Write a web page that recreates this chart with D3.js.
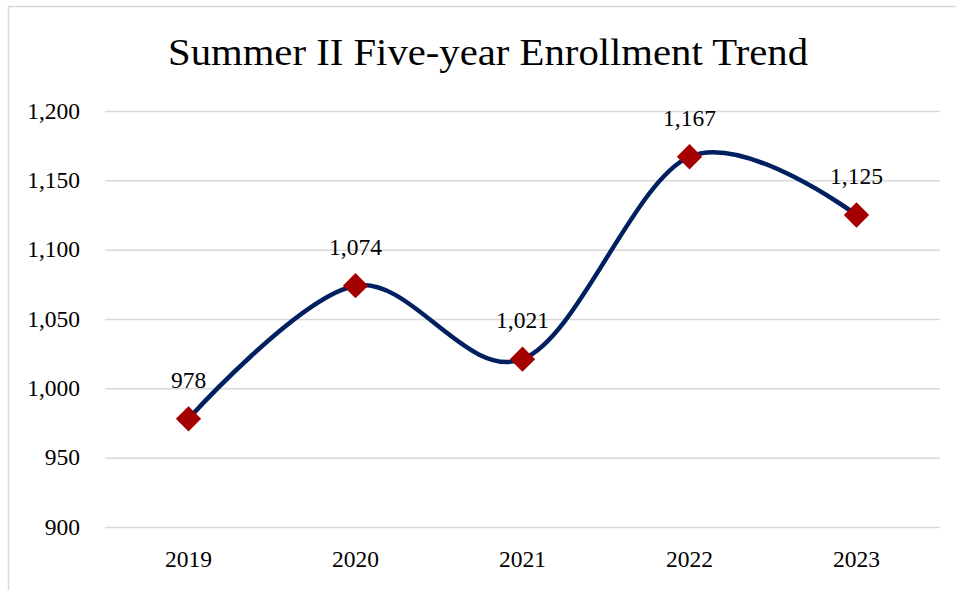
<!DOCTYPE html>
<html>
<head>
<meta charset="utf-8">
<script src="https://cdn.jsdelivr.net/npm/d3@7"></script>
<style>
  body { margin: 0; background: #fff; }
  svg { display: block; font-family: "Liberation Serif", "DejaVu Serif", serif; }
</style>
</head>
<body>
<div id="viz"></div>
<script>
const title = "Summer II Five-year Enrollment Trend";
const years = ["2019", "2020", "2021", "2022", "2023"];
const enrollment = [978, 1074, 1021, 1167, 1125];
const yTicks = [900, 950, 1000, 1050, 1100, 1150, 1200];

const W = 956, H = 590;
const m = {left: 105, right: 16, top: 111, bottom: 63};

const svg = d3.select("#viz").append("svg")
  .attr("width", W)
  .attr("height", H);

// chart frame (right/bottom edges fall outside the picture)
svg.append("rect")
  .attr("x", 8.5).attr("y", 6.5)
  .attr("width", 980).attr("height", 620)
  .attr("fill", "none")
  .attr("stroke", "#d9d9d9")
  .attr("stroke-width", 1.5);

const x = d3.scaleBand()
  .domain(years)
  .range([m.left, W - m.right]);

const y = d3.scaleLinear()
  .domain([900, 1200])
  .range([H - m.bottom, m.top]);

const fmt = d3.format(",");

// gridlines + y labels
const yAxis = svg.append("g")
  .attr("transform", `translate(${m.left},0)`)
  .call(d3.axisLeft(y).tickValues(yTicks).tickFormat(fmt)
    .tickSize(-(W - m.left - m.right)).tickPadding(25));
yAxis.select(".domain").remove();
yAxis.selectAll(".tick line").attr("stroke", "#d9d9d9").attr("stroke-width", 1.5);
yAxis.selectAll(".tick text")
  .attr("font-family", "Liberation Serif, serif")
  .attr("font-size", 23.5)
  .attr("fill", "#000")
  .attr("dy", "0.3em");

// x labels
const xAxis = svg.append("g")
  .attr("transform", `translate(0,${H - m.bottom})`)
  .call(d3.axisBottom(x).tickSize(0).tickPadding(23));
xAxis.select(".domain").remove();
xAxis.selectAll(".tick text")
  .attr("font-family", "Liberation Serif, serif")
  .attr("font-size", 23.5)
  .attr("fill", "#000");

const pts = years.map((yr, i) => ({year: yr, value: enrollment[i]}));
const cx = d => x(d.year) + x.bandwidth() / 2;

const line = d3.line()
  .x(cx)
  .y(d => y(d.value))
  .curve(d3.curveCatmullRom.alpha(0));

svg.append("path")
  .datum(pts)
  .attr("fill", "none")
  .attr("stroke", "#002060")
  .attr("stroke-width", 4.5)
  .attr("stroke-linecap", "round")
  .attr("d", line);

svg.append("g")
  .selectAll("path")
  .data(pts)
  .join("path")
    .attr("transform", d => `translate(${cx(d)},${y(d.value)}) rotate(45)`)
    .attr("d", d3.symbol().type(d3.symbolSquare).size(320))
    .attr("fill", "#a50000");

svg.append("g")
  .selectAll("text")
  .data(pts)
  .join("text")
    .attr("x", cx)
    .attr("y", d => y(d.value) - 31)
    .attr("text-anchor", "middle")
    .attr("font-size", 23.5)
    .text(d => fmt(d.value));

svg.append("text")
  .attr("x", 488)
  .attr("y", 65)
  .attr("text-anchor", "middle")
  .attr("font-size", 37)
  .attr("textLength", 640)
  .attr("lengthAdjust", "spacingAndGlyphs")
  .text(title);
</script>
</body>
</html>
